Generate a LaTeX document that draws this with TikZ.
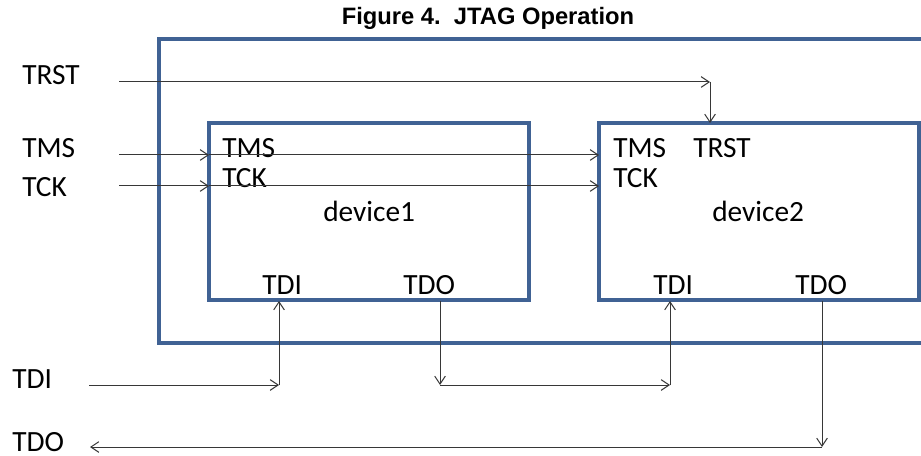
\documentclass[tikz,border=0pt]{standalone}
\usepackage{fontspec}
\setmainfont{Carlito}
\newfontfamily\titlefont{Liberation Sans}
\usetikzlibrary{arrows.meta}
\definecolor{boxblue}{RGB}{64,98,148}
\definecolor{wire}{RGB}{55,55,55}
\tikzset{
  lbl/.style={anchor=base west, inner sep=0pt, font=\fontsize{22pt}{24pt}\selectfont},
  devbox/.style={draw=boxblue, line width=2.3pt, minimum width=240pt, minimum height=132.75pt, inner sep=0pt},
  outerbox/.style={draw=boxblue, line width=2.3pt},
  sig/.style={draw=wire, line width=0.75pt, -{Straight Barb[length=6pt,width=8pt]}},
}
\begin{document}
\begin{tikzpicture}[x=0.75pt,y=-0.75pt]
\clip (0,0) rectangle (921,456);
\fill[white] (0,0) rectangle (921,456);
% title
\node[anchor=base, inner sep=0pt, font=\titlefont\bfseries\fontsize{17.8pt}{19pt}\selectfont] (title) at (488,25) {Figure 4.\ \ JTAG Operation};
% outer box
\draw[outerbox] (940,39) -- (159,39) -- (159,343) -- (940,343);
% devices
\node[devbox] (d1) at (369,211.5) {};
\node[devbox] (d2) at (759,211.5) {};
% external labels
\node[lbl] (lTRST) at (22,85) {TRST};
\node[lbl] (lTMS) at (22,158) {TMS};
\node[lbl] (lTCK) at (22,197) {TCK};
\node[lbl] (lTDI) at (12,388) {TDI};
\node[lbl] (lTDO) at (12,451) {TDO};
% device1 labels
\node[lbl] (a1) at (222,158) {TMS};
\node[lbl] (a2) at (222,188) {TCK};
\node[lbl] (a3) at (323,222) {device1};
\node[lbl] (a4) at (262,294) {TDI};
\node[lbl] (a5) at (403,294) {TDO};
% device2 labels
\node[lbl] (b1) at (613,158) {TMS};
\node[lbl] (b2) at (693,158) {TRST};
\node[lbl] (b3) at (613,188) {TCK};
\node[lbl] (b4) at (712,222) {device2};
\node[lbl] (b5) at (653,294) {TDI};
\node[lbl] (b6) at (795,294) {TDO};
% coordinates
\coordinate (trstA) at (119,82);
\coordinate (trstB) at (710,82);
\coordinate (trstC) at (710,123);
\coordinate (tmsA) at (119,155);
\coordinate (tmsB) at (209,155);
\coordinate (tmsC) at (599,155);
\coordinate (tckA) at (119,186);
\coordinate (tckB) at (209,186);
\coordinate (tckC) at (599,186);
\coordinate (tdiA) at (89,385);
\coordinate (tdiB) at (279,385);
\coordinate (tdiC) at (279,301);
\coordinate (m1) at (440,301);
\coordinate (m2) at (440,385);
\coordinate (m3) at (670,385);
\coordinate (m4) at (670,301);
\coordinate (o1) at (822,301);
\coordinate (o2) at (822,447);
\coordinate (o3) at (90,447);
% wires
\draw[sig] (trstA) -- (trstB);
\draw[sig] (trstB) -- (trstC);
\draw[sig] (tmsA) -- (tmsB);
\draw[sig] (tmsB) -- (tmsC);
\draw[sig] (tckA) -- (tckB);
\draw[sig] (tckB) -- (tckC);
\draw[sig] (tdiA) -- (tdiB);
\draw[sig] (tdiB) -- (tdiC);
\draw[sig] (m1) -- (m2);
\draw[sig] (m2) -- (m3);
\draw[sig] (m3) -- (m4);
\draw[sig] (o1) -- (o2);
\draw[sig] (o2) -- (o3);
\end{tikzpicture}
\end{document}
